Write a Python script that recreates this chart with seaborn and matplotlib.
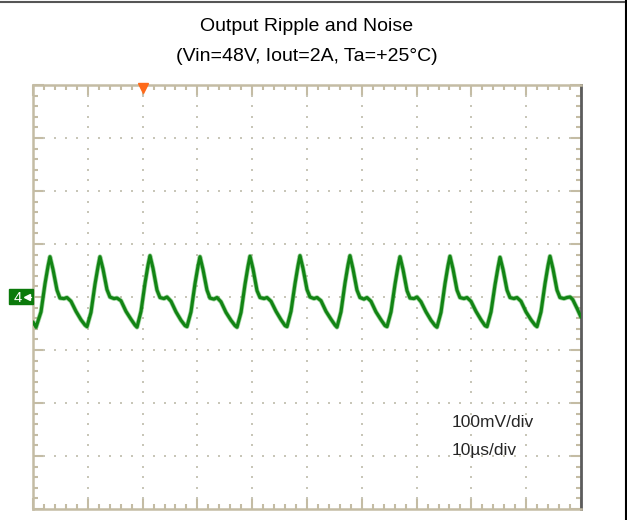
import matplotlib
matplotlib.use("Agg")
import matplotlib.pyplot as plt
import seaborn as sns
import numpy as np
import pandas as pd
from matplotlib.ticker import MultipleLocator
from matplotlib.lines import Line2D
from matplotlib.patches import Rectangle

# ---------------- data ----------------
title_line1 = "Output Ripple and Noise"
title_line2 = "(Vin=48V, Iout=2A, Ta=+25°C)"
scale_labels = ["100mV/div", "10µs/div"]
channel_label = "4"
x_range_us = (0, 100)      # 10 div x 10 us
y_range_mv = (-400, 400)   # 8 div x 100 mV
trigger_time_us = 20

time_us = [
    0.00, 0.55, 1.46, 2.19, 2.74, 3.10, 3.65, 4.38, 4.92, 5.65, 6.20, 6.93, 7.84, 8.76, 9.49,
    9.85, 10.58, 11.31, 11.86, 12.22, 12.77, 13.50, 14.04, 14.77, 15.32, 16.05, 16.96, 17.88, 18.61,
    18.98, 19.71, 20.44, 20.99, 21.35, 21.90, 22.63, 23.17, 23.90, 24.45, 25.18, 26.09, 27.01, 27.74,
    28.10, 28.83, 29.56, 30.11, 30.47, 31.02, 31.75, 32.29, 33.02, 33.57, 34.30, 35.21, 36.13, 36.86,
    37.23, 37.96, 38.69, 39.24, 39.60, 40.15, 40.88, 41.42, 42.15, 42.70, 43.43, 44.34, 45.26, 45.99,
    46.35, 47.08, 47.81, 48.36, 48.72, 49.27, 50.00, 50.54, 51.27, 51.82, 52.55, 53.46, 54.38, 55.11,
    55.47, 56.20, 56.93, 57.48, 57.84, 58.39, 59.12, 59.66, 60.39, 60.94, 61.67, 62.58, 63.50, 64.23,
    64.60, 65.33, 66.06, 66.61, 66.97, 67.52, 68.25, 68.79, 69.52, 70.07, 70.80, 71.71, 72.63, 73.36,
    73.72, 74.45, 75.18, 75.73, 76.09, 76.64, 77.37, 77.91, 78.64, 79.19, 79.92, 80.83, 81.75, 82.48,
    82.85, 83.58, 84.31, 84.86, 85.22, 85.77, 86.50, 87.04, 87.77, 88.32, 89.05, 89.96, 90.88, 91.61,
    91.97, 92.70, 93.43, 93.98, 94.34, 94.89, 95.62, 96.16, 96.89, 97.44, 98.00, 98.50, 99.30, 100.00,
]
ripple_mv = [
    -47, -57, -28, 25, 58, 76, 52, 13, -2, -3, -1, -8, -27, -43, -53,
    -56, -29, 24, 57, 76, 53, 14, 0, -3, -2, -7, -27, -42, -53,
    -57, -27, 26, 60, 78, 54, 13, -1, -3, 0, -8, -28, -44, -54,
    -56, -28, 25, 58, 76, 52, 13, -2, -4, -1, -9, -29, -44, -54,
    -57, -29, 24, 58, 77, 53, 12, -1, -3, -1, -8, -27, -43, -54,
    -56, -27, 25, 59, 78, 54, 14, 0, -3, -1, -7, -27, -42, -53,
    -57, -28, 26, 60, 78, 53, 13, -1, -4, -1, -8, -28, -43, -54,
    -56, -28, 24, 58, 76, 52, 12, -2, -3, 0, -9, -28, -44, -54,
    -57, -29, 25, 59, 77, 53, 13, -1, -3, -1, -8, -27, -43, -54,
    -56, -28, 23, 56, 75, 52, 13, -1, -3, -1, -8, -28, -43, -53,
    -56, -28, 25, 59, 77, 53, 13, -1, -3, -1, 0, -5, -22, -38,
]

df = pd.DataFrame({"time_us": time_us, "ripple_mv": ripple_mv})

# ---------------- style ----------------
sns.set_style("white")
plt.rcParams["font.family"] = ["Liberation Sans", "DejaVu Sans"]

W, H = 627, 520
fig = plt.figure(figsize=(W / 100, H / 100), dpi=100)
ax = fig.add_axes([33 / W, 1 - 509 / H, 548 / W, 424 / H])

frame_col = "#c4bca4"
grid_col = "#c8c6b8"
trace_col = "#128414"

# dotted graticule
gx = np.arange(10, 100, 10)
gy_dots = np.arange(-380, 400, 20)
vx, vy = np.meshgrid(gx, gy_dots)
ax.scatter(vx.ravel(), vy.ravel(), s=2.4, marker="s", color=grid_col, linewidths=0, zorder=1)
gy = np.arange(-300, 400, 100)
gx_dots = np.arange(2, 100, 2)
hx, hy = np.meshgrid(gx_dots, gy)
ax.scatter(hx.ravel(), hy.ravel(), s=2.4, marker="s", color=grid_col, linewidths=0, zorder=1)

# waveform (soft halo + core trace)
sns.lineplot(data=df, x="time_us", y="ripple_mv", ax=ax, color="#62b862",
             linewidth=3.4, errorbar=None, sort=False, zorder=2, alpha=0.6)
sns.lineplot(data=df, x="time_us", y="ripple_mv", ax=ax, color=trace_col,
             linewidth=2.3, errorbar=None, sort=False, zorder=3)

ax.set_xlim(*x_range_us)
ax.set_ylim(*y_range_mv)
ax.set_xlabel("")
ax.set_ylabel("")

ax.xaxis.set_major_locator(MultipleLocator(10))
ax.xaxis.set_minor_locator(MultipleLocator(2))
ax.yaxis.set_major_locator(MultipleLocator(100))
ax.yaxis.set_minor_locator(MultipleLocator(20))
ax.tick_params(which="both", direction="in", top=True, right=True, bottom=True, left=True,
               labelbottom=False, labelleft=False, color=frame_col, width=1.5)
ax.tick_params(which="major", length=8)
ax.tick_params(which="minor", length=3.8)

for s in ["left", "top", "bottom"]:
    ax.spines[s].set_color(frame_col)
    ax.spines[s].set_linewidth(1.8)
ax.spines["right"].set_color("#5c5c5c")
ax.spines["right"].set_linewidth(2.0)

# trigger marker
ax.plot([trigger_time_us], [394], marker="v", color="#ff6a1a", markersize=7,
        clip_on=False, zorder=5, linestyle="none")

# channel marker
fig.add_artist(Rectangle((9 / W, 1 - 304 / H), 24 / W, 15 / H, transform=fig.transFigure,
                         color="#0b7a0b", zorder=5))
fig.text(18 / W, 1 - 297.5 / H, channel_label, color="white", fontsize=10.5, ha="center",
         va="center", zorder=6)
fig.add_artist(Line2D([26 / W, 31 / W], [1 - 297 / H] * 2, color="white", lw=1.0,
                      transform=fig.transFigure, zorder=6))
fig.add_artist(Line2D([26.5 / W], [1 - 297 / H], marker="<", color="white", markersize=4,
                      transform=fig.transFigure, zorder=6))

# titles
fig.text(307 / W, 1 - 31 / H, title_line1, ha="center", va="baseline", fontsize=14, color="black")
fig.text(307 / W, 1 - 61 / H, title_line2, ha="center", va="baseline", fontsize=14, color="black")

# scale annotations
fig.text(452 / W, 1 - 427 / H, scale_labels[0], ha="left", va="baseline", fontsize=12.5)
fig.text(452 / W, 1 - 455 / H, scale_labels[1], ha="left", va="baseline", fontsize=12.5)

# outer border lines
fig.add_artist(Line2D([0, 1], [1 - 2 / H] * 2, color="#555555", lw=1.5, transform=fig.transFigure))
fig.add_artist(Line2D([625.5 / W] * 2, [0, 1], color="black", lw=1.5, transform=fig.transFigure))

fig.savefig("out.png", dpi=100)
